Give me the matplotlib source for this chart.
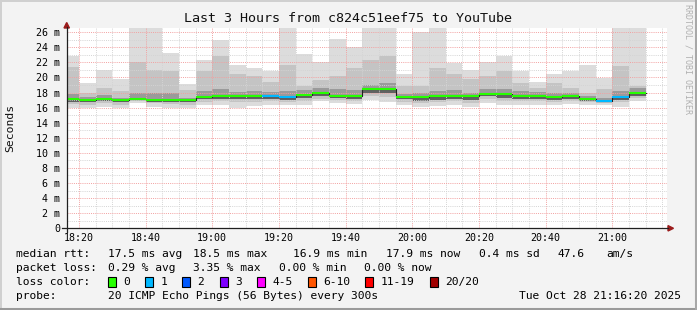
import pandas as pd
import matplotlib
matplotlib.use("Agg")
import matplotlib.pyplot as plt
import matplotlib.dates as mdates
from matplotlib.lines import Line2D
from matplotlib.patches import Rectangle, Polygon

W, H = 697, 310
MONO = "DejaVu Sans Mono"

# ── data: one bar per 5-minute step (step ends 18:20 ... 21:10) ─────
step_end = pd.date_range("2025-10-28 18:20", "2025-10-28 21:10", freq="5min")

rtt_min = [16.0, 16.0, 16.1, 16.0, 16.6, 16.1, 16.0, 16.0, 16.4, 16.4,
           16.0, 16.15, 16.4, 16.3, 16.4, 16.9, 16.6, 16.5, 17.05, 16.7,
           16.4, 16.1, 16.2, 16.4, 16.1, 16.6, 16.4, 16.4, 16.4, 16.3,
           16.5, 16.4, 16.4, 16.1, 16.9]
rtt_p20 = [16.5, 16.4, 16.6, 16.4, 16.9, 16.6, 16.5, 16.4, 16.8, 16.9,
           16.7, 16.7, 16.9, 16.7, 16.9, 17.2, 17.0, 16.9, 17.5, 17.4,
           16.8, 16.6, 16.7, 16.9, 16.6, 17.1, 16.9, 16.9, 16.9, 16.7,
           16.9, 16.7, 16.6, 16.7, 17.3]
rtt_p40 = [16.8, 16.7, 16.9, 16.7, 17.0, 16.8, 16.8, 16.7, 17.1, 17.2,
           17.1, 17.1, 17.2, 17.0, 17.3, 17.5, 17.3, 17.2, 17.9, 17.9,
           17.1, 16.9, 17.0, 17.2, 17.0, 17.5, 17.3, 17.2, 17.2, 17.0,
           17.2, 16.9, 16.75, 17.0, 17.6]
rtt_median = [17.1, 16.95, 17.2, 16.95, 17.2, 17.05, 17.05, 16.95, 17.35, 17.5,
              17.55, 17.55, 17.6, 17.35, 17.7, 17.95, 17.6, 17.6, 18.45, 18.45,
              17.35, 17.35, 17.5, 17.6, 17.5, 17.85, 17.85, 17.6, 17.6, 17.35,
              17.5, 17.1, 16.9, 17.35, 17.9]
rtt_p60 = [17.8, 17.4, 17.7, 17.3, 18.0, 17.9, 18.0, 17.3, 18.2, 18.4,
           18.1, 18.2, 18.1, 18.2, 18.3, 18.6, 18.4, 18.3, 19.0, 19.2,
           17.8, 17.9, 18.2, 18.3, 18.0, 18.5, 18.5, 18.2, 18.1, 18.0,
           17.9, 17.5, 17.3, 18.2, 18.6]
rtt_p80 = [21.4, 17.9, 18.6, 18.2, 22.1, 21.0, 20.8, 18.3, 20.8, 22.8,
           20.4, 20.2, 19.4, 21.7, 18.8, 19.6, 20.2, 21.3, 22.3, 22.8,
           18.9, 18.8, 21.2, 20.4, 19.8, 20.2, 20.8, 19.2, 18.6, 19.3,
           18.6, 18.0, 18.4, 21.5, 18.9]
rtt_max = [22.8, 19.3, 21.0, 19.8, 26.6, 26.6, 23.2, 19.1, 22.3, 25.0,
           21.7, 21.3, 20.8, 26.6, 23.1, 22.1, 25.1, 24.0, 26.6, 26.6,
           20.4, 26.0, 26.6, 21.9, 21.0, 22.0, 22.8, 20.8, 19.4, 20.4,
           20.8, 21.7, 19.9, 26.6, 26.6]
loss = [0, 0, 0, 0, 0, 0, 0, 0, 0, 0,
        0, 0, 1, 1, 0, 0, 0, 0, 0, 0,
        0, 0, 0, 0, 0, 0, 0, 0, 0, 0,
        0, 0, 1, 1, 0]

loss_labels = ["0", "1", "2", "3", "4-5", "6-10", "11-19", "20/20"]
loss_colors = ["#26ff00", "#00b8ff", "#0059ff", "#7e00ff",
               "#ff00ff", "#ff5500", "#ff0000", "#a10000"]

y_ticks = list(range(0, 27, 2))
title = "Last 3 Hours from c824c51eef75 to YouTube"
t_start = pd.Timestamp("2025-10-28 18:16:20")
t_end = pd.Timestamp("2025-10-28 21:16:20")


def fx(x):
    return x / W


def fy(y):
    return 1 - y / H


# ── figure & axes ─────────────────────────────────────
fig = plt.figure(figsize=(W / 100, H / 100), dpi=100, facecolor="#f3f3f3")
ax = fig.add_axes([fx(66.7), fy(228.3), 600 / W, 200.3 / H])
ax.set_facecolor("white")

# step edges: each bar covers the 5 minutes before its end time
edges = list(step_end - pd.Timedelta(minutes=5)) + [step_end[-1]]


def ext(v):
    return list(v) + [v[-1]]


# smoke: nested bands, lighter towards the extremes
bands = [
    (rtt_min, rtt_max, "#dcdcdc"),
    (rtt_p20, rtt_p80, "#c4c4c4"),
    (rtt_p40, rtt_p60, "#9a9a9a"),
]
for lo, hi, col in bands:
    ax.fill_between(edges, ext(lo), ext(hi), step="post", color=col,
                    linewidth=0, zorder=1)

# dark core just below the median
ax.fill_between(edges, ext(rtt_p40), ext(rtt_median), step="post",
                color="#3c3c3c", linewidth=0, zorder=1.1, alpha=0.6)

# median: thin dark step line, then loss-coloured segments on top
ax.step(edges, ext(rtt_median), where="post", color="#202020",
        linewidth=0.8, zorder=3)
for i, m in enumerate(rtt_median):
    ax.plot([edges[i], edges[i + 1]], [m, m], color=loss_colors[loss[i]],
            linewidth=1.5, solid_capstyle="butt", zorder=4)

ax.set_xlim(t_start, t_end)
ax.set_ylim(0, 26.55)

ax.xaxis.set_major_locator(mdates.MinuteLocator(byminute=[0, 20, 40]))
ax.xaxis.set_minor_locator(mdates.MinuteLocator(byminute=range(0, 60, 5)))
ax.xaxis.set_major_formatter(mdates.DateFormatter("%H:%M"))
ax.set_yticks(y_ticks)
ax.set_yticks(range(0, 27), minor=True)
ax.set_yticklabels(["0"] + [f"{v} m" for v in y_ticks[1:]])

ax.set_axisbelow(False)
ax.grid(which="minor", color="#d4d4d4", linestyle=(0, (1, 1.2)), linewidth=0.7)
ax.grid(which="major", color="#f2a0a0", linestyle=(0, (1, 1.2)), linewidth=0.7)

ax.tick_params(which="both", length=0)
ax.tick_params(axis="y", pad=4.8, labelsize=7.2)
ax.tick_params(axis="x", pad=3.2, labelsize=7.2)
for lab in ax.get_xticklabels() + ax.get_yticklabels():
    lab.set_family(MONO)
for s in ax.spines.values():
    s.set_visible(False)

# axis lines with arrows (figure pixel coords)
axis_col = "#202020"
arrow_col = "#9b1c1c"
fig.add_artist(Line2D([fx(62), fx(668)], [fy(228.3), fy(228.3)],
                      color=axis_col, linewidth=0.9))
fig.add_artist(Line2D([fx(66.7), fx(66.7)], [fy(231.5), fy(27)],
                      color=axis_col, linewidth=0.9))
fig.add_artist(Polygon([(fx(668), fy(225.6)), (fx(673.5), fy(228.3)),
                        (fx(668), fy(231))], closed=True, color=arrow_col))
fig.add_artist(Polygon([(fx(64), fy(28)), (fx(66.7), fy(22.5)),
                        (fx(69.4), fy(28))], closed=True, color=arrow_col))

# ── texts ─────────────────────────────────────────────
fig.text(0.5, fy(19), title, ha="center", va="center",
         fontsize=9.6, family=MONO, color="#111111")
fig.text(fx(10), fy(128), "Seconds", rotation=90, ha="center", va="center",
         fontsize=8.2, family=MONO, color="#111111")
fig.text(fx(688), fy(4), "RRDTOOL / TOBI OETIKER", rotation=270,
         ha="center", va="top", fontsize=6.0, family=MONO, color="#b0b0b0")

fs = 8.1
row1 = [(16, "median rtt:"), (107.6, "17.5 ms avg"), (193, "18.5 ms max"),
        (293.3, "16.9 ms min"), (385.8, "17.9 ms now"), (479, "0.4 ms sd"),
        (557.8, "47.6"), (606.7, "am/s")]
row2 = [(16, "packet loss:"), (107.6, "0.29 % avg"), (193, "3.35 % max"),
        (279, "0.00 % min"), (364.4, "0.00 % now")]
for x, s in row1:
    fig.text(fx(x), fy(254.3), s, ha="left", va="center", fontsize=fs, family=MONO)
for x, s in row2:
    fig.text(fx(x), fy(268.3), s, ha="left", va="center", fontsize=fs, family=MONO)

fig.text(fx(16), fy(281.7), "loss color:", ha="left", va="center",
         fontsize=fs, family=MONO)
box_x = [108, 145.3, 182, 219.6, 257, 307.6, 365, 430]
for bx, lab, col in zip(box_x, loss_labels, loss_colors):
    fig.add_artist(Rectangle((fx(bx), fy(286.5)), 8 / W, 9.5 / H,
                             facecolor=col, edgecolor="black", linewidth=0.8))
    fig.text(fx(bx + 15.5), fy(281.7), lab, ha="left", va="center",
             fontsize=fs, family=MONO)

fig.text(fx(16), fy(296.3), "probe:", ha="left", va="center",
         fontsize=fs, family=MONO)
fig.text(fx(107.6), fy(296.3), "20 ICMP Echo Pings (56 Bytes) every 300s",
         ha="left", va="center", fontsize=fs, family=MONO)
fig.text(fx(681), fy(296.3), "Tue Oct 28 21:16:20 2025",
         ha="right", va="center", fontsize=fs, family=MONO)

# 3D-ish frame around the image
fig.add_artist(Line2D([0, 1], [fy(0.5), fy(0.5)], color="#d0d0d0", linewidth=1.4))
fig.add_artist(Line2D([fx(0.5), fx(0.5)], [0, 1], color="#d0d0d0", linewidth=1.4))
fig.add_artist(Line2D([0, 1], [fy(309), fy(309)], color="#9a9a9a", linewidth=2.2))
fig.add_artist(Line2D([fx(696), fx(696)], [0, 1], color="#a8a8a8", linewidth=2.2))

fig.savefig("out.png", dpi=100, facecolor=fig.get_facecolor())
